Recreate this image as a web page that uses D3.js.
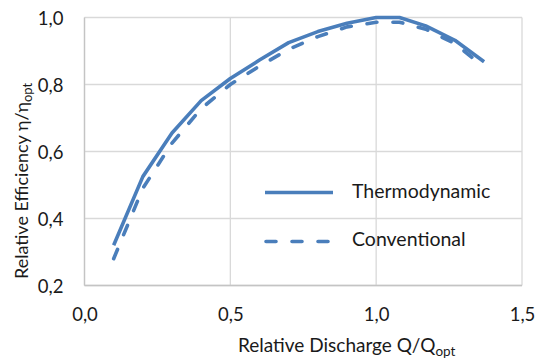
<!DOCTYPE html>
<html>
<head>
<meta charset="utf-8">
<script src="https://cdn.jsdelivr.net/npm/d3@7"></script>
<style>
  html, body { margin: 0; padding: 0; background: #fff; }
  svg { display: block; }
  text { font-family: Lato, "Open Sans", sans-serif; fill: #1a1a1a; }
</style>
</head>
<body>
<svg id="chart" width="543" height="362"></svg>
<script>
// ---- data ----
const thermoX = [0.1, 0.2, 0.3, 0.4, 0.5, 0.6, 0.7, 0.8, 0.9, 1.0, 1.08, 1.17, 1.27, 1.37];
const thermoY = [0.32, 0.525, 0.655, 0.752, 0.818, 0.873, 0.925, 0.958, 0.983, 1.0, 1.0, 0.975, 0.932, 0.868];
const convX = [0.1, 0.2, 0.3, 0.4, 0.5, 0.6, 0.7, 0.8, 0.9, 1.0, 1.08, 1.17, 1.27, 1.37];
const convY = [0.28, 0.49, 0.625, 0.728, 0.80, 0.855, 0.905, 0.943, 0.972, 0.986, 0.986, 0.965, 0.922, 0.852];
const seriesNames = ["Thermodynamic", "Conventional"];
const xTicks = [0, 0.5, 1.0, 1.5];
const xTickLabels = ["0,0", "0,5", "1,0", "1,5"];
const yTicks = [0.2, 0.4, 0.6, 0.8, 1.0];
const yTickLabels = ["0,2", "0,4", "0,6", "0,8", "1,0"];

const color = "#4a7ebb";
const svg = d3.select("#chart");
const x = d3.scaleLinear().domain([0, 1.5]).range([84.5, 522]);
const y = d3.scaleLinear().domain([0.2, 1.0]).range([285.5, 17.5]);

// gridlines
const grid = svg.append("g");
grid.selectAll("line.h").data(yTicks).join("line")
  .attr("x1", x(0)).attr("x2", x(1.5))
  .attr("y1", d => y(d)).attr("y2", d => y(d))
  .attr("stroke", "#d9d9d9").attr("stroke-width", 1.3);
grid.selectAll("line.v").data(xTicks).join("line")
  .attr("y1", y(0.2)).attr("y2", y(1.0))
  .attr("x1", d => x(d)).attr("x2", d => x(d))
  .attr("stroke", "#d9d9d9").attr("stroke-width", 1.3);
// axis lines
svg.append("line").attr("x1", x(0)).attr("x2", x(0)).attr("y1", y(0.2)).attr("y2", y(1.0))
  .attr("stroke", "#c4c4c4").attr("stroke-width", 1.3);
svg.append("line").attr("x1", x(0)).attr("x2", x(1.5)).attr("y1", y(0.2)).attr("y2", y(0.2))
  .attr("stroke", "#c4c4c4").attr("stroke-width", 1.3);

// axes labels via d3 axes
const xAxis = d3.axisBottom(x).tickValues(xTicks).tickSize(0)
  .tickFormat((d, i) => xTickLabels[i]);
const gx = svg.append("g").attr("transform", `translate(0,${y(0.2)})`).call(xAxis);
gx.select(".domain").remove();
gx.selectAll("text").attr("dy", null).attr("y", 35)
  .style("font-family", "Lato, 'Open Sans', sans-serif").style("font-size", "18.5px").attr("fill", "#1a1a1a");

const yAxis = d3.axisLeft(y).tickValues(yTicks).tickSize(0)
  .tickFormat((d, i) => yTickLabels[i]);
const gy = svg.append("g").attr("transform", `translate(${x(0)},0)`).call(yAxis);
gy.select(".domain").remove();
gy.selectAll("text").attr("x", -21).attr("dy", "0.36em")
  .style("font-family", "Lato, 'Open Sans', sans-serif").style("font-size", "18.5px").attr("fill", "#1a1a1a");

// lines
const line = d3.line().x(d => x(d[0])).y(d => y(d[1]));
const thermo = thermoX.map((v, i) => [v, thermoY[i]]);
const conv = convX.map((v, i) => [v, convY[i]]);
svg.append("path").datum(conv).attr("d", line)
  .attr("fill", "none").attr("stroke", color).attr("stroke-width", 3.6)
  .attr("stroke-dasharray", "10,16").attr("stroke-linecap", "round").attr("stroke-linejoin", "round");
svg.append("path").datum(thermo).attr("d", line)
  .attr("fill", "none").attr("stroke", color).attr("stroke-width", 3.6)
  .attr("stroke-linejoin", "round");

// legend
const lg = svg.append("g");
lg.append("line").attr("x1", 265).attr("x2", 333).attr("y1", 192.5).attr("y2", 192.5)
  .attr("stroke", color).attr("stroke-width", 3.6);
lg.append("text").attr("x", 352).attr("y", 198).style("font-size", "19.5px").text(seriesNames[0]);
lg.append("line").attr("x1", 266).attr("x2", 333).attr("y1", 241.5).attr("y2", 241.5)
  .attr("stroke", color).attr("stroke-width", 3.6)
  .attr("stroke-dasharray", "10,16").attr("stroke-linecap", "round");
lg.append("text").attr("x", 352).attr("y", 246).style("font-size", "19.5px").text(seriesNames[1]);

// axis titles
const xt = svg.append("text").attr("x", 238).attr("y", 352).style("font-size", "19px");
xt.append("tspan").text("Relative Discharge Q/Q");
xt.append("tspan").attr("dy", 4).style("font-size", "13.5px").text("opt");

const yt = svg.append("text").attr("transform", "translate(28,279) rotate(-90)").style("font-size", "18px");
yt.append("tspan").text("Relative Efficiency η/η");
yt.append("tspan").attr("dy", 4).style("font-size", "13px").text("opt");
</script>
</body>
</html>
